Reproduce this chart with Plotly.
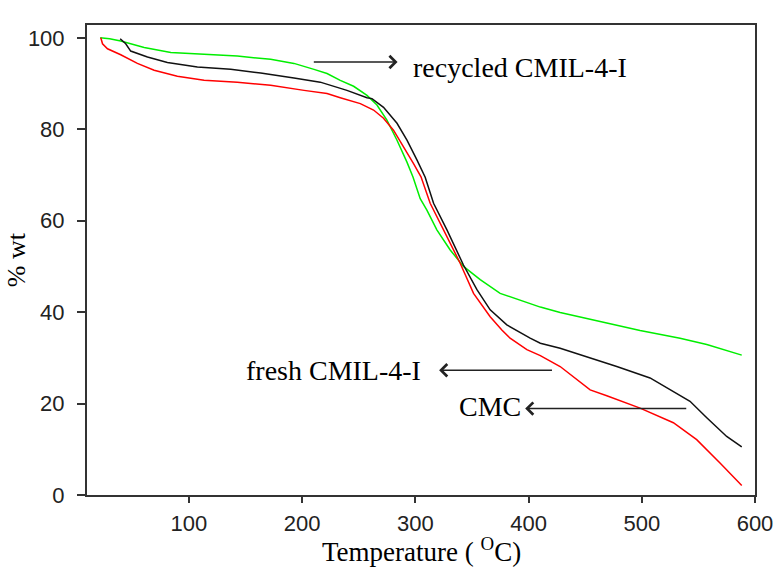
import plotly.graph_objects as go

# ---- data ----
recycled_x = [21.6, 30, 39.8, 60.5, 84, 113.4, 142.8, 172.2, 192.8, 210.5, 222, 233.7, 245.5, 257.3, 266.1,
              274.9, 283.8, 292.6, 298, 304.3, 310.2, 319, 330.8, 342.5, 357.3, 374.9, 398.5, 410.4, 427.9,
              439.6, 469.1, 498.5, 522, 533.8, 557.4, 588.3]
recycled_y = [100.0, 99.8, 99.3, 97.9, 96.8, 96.4, 96.0, 95.3, 94.4, 93.1, 92.2, 90.7, 89.4, 87.4, 85.3,
              82.0, 77.6, 72.8, 69.5, 64.8, 62.3, 58.0, 53.6, 50.0, 47.1, 44.1, 42.0, 41.1, 39.9,
              39.2, 37.6, 36.0, 34.8, 34.3, 32.9, 30.6]

fresh_x = [39.3, 44.2, 48.6, 63.4, 81, 107.5, 136.9, 163.4, 192.8, 216, 239.6, 257.3, 261.7, 271.9, 283.8,
           292.6, 301.4, 308.7, 316.1, 327.9, 342.5, 354.4, 366.1, 380.8, 401.4, 410.4, 427.9, 448.4,
           477.9, 507.3, 527.9, 542.6, 557.4, 575, 588.3]
fresh_y = [99.8, 98.7, 97.1, 95.8, 94.6, 93.6, 93.1, 92.3, 91.2, 90.3, 88.5, 86.9, 86.7, 84.8, 81.3,
           77.6, 73.3, 69.5, 63.8, 58.0, 50.3, 44.9, 40.5, 37.2, 34.3, 33.2, 32.1, 30.5,
           28.1, 25.6, 22.7, 20.5, 16.9, 12.8, 10.5]

cmc_x = [22.2, 23.7, 28.1, 39.8, 54.5, 69.3, 89.8, 113.4, 142.8, 172.2, 201.7, 222, 233.7, 251.4, 263.1,
         271.9, 280.7, 289.6, 298.4, 305, 313.1, 324.9, 339.6, 351.4, 366.1, 376.4, 383.7, 398.5,
         410.4, 427.9, 454.4, 469.1, 498.5, 527.9, 548.5, 569.1, 588.3]
cmc_y = [100, 98.7, 97.6, 96.3, 94.4, 92.9, 91.6, 90.7, 90.3, 89.6, 88.5, 87.8, 86.9, 85.6, 84.2,
         82.4, 79.8, 76.2, 72.5, 69.6, 63.8, 58.0, 50.7, 44.1, 39.0, 36.1, 34.3, 31.8,
         30.5, 28.1, 23.0, 21.7, 19.0, 15.8, 12.1, 7.0, 2.1]

x_ticks = [100, 200, 300, 400, 500, 600]
y_ticks = [0, 20, 40, 60, 80, 100]

x_title = "Temperature ( <sup>O</sup>C)"
y_title = "% wt"

# labels: (text, text_x, text_y, arrow_tail_x, arrow_head_x, arrow_y)
labels = [
    ("recycled CMIL-4-I", 296.0, 93.6, 209.0, 284.3, 94.7),
    ("fresh CMIL-4-I", 149.0, 27.3, 422.0, 321.0, 27.3),
    ("CMC", 337.0, 19.4, 540.6, 397.0, 18.9),
]

fig = go.Figure()
fig.add_trace(go.Scatter(x=recycled_x, y=recycled_y, mode="lines",
                         line=dict(color="#00ee00", width=1.5), name="recycled CMIL-4-I"))
fig.add_trace(go.Scatter(x=fresh_x, y=fresh_y, mode="lines",
                         line=dict(color="#111111", width=1.5), name="fresh CMIL-4-I"))
fig.add_trace(go.Scatter(x=cmc_x, y=cmc_y, mode="lines",
                         line=dict(color="#ff0000", width=1.5), name="CMC"))

serif = "Liberation Serif, Times New Roman, serif"
for text, tx, ty, tail, head, ay in labels:
    fig.add_annotation(x=tx, y=ty, xref="x", yref="y", text=text, showarrow=False,
                       xanchor="left", yanchor="middle",
                       font=dict(family=serif, size=28, color="black"))
    fig.add_annotation(x=head, y=ay, ax=tail, ay=ay, xref="x", yref="y", axref="x", ayref="y",
                       text="", showarrow=True, arrowhead=4, arrowsize=1.6, arrowwidth=1.5,
                       arrowcolor="#222222", standoff=0, startstandoff=0)

# axis titles
fig.add_annotation(x=0.5, y=-0.118, xref="paper", yref="paper", text=x_title, showarrow=False,
                   xanchor="center", yanchor="middle",
                   font=dict(family=serif, size=27, color="black"))
fig.add_annotation(x=-0.106, y=0.5, xref="paper", yref="paper", text=y_title, showarrow=False,
                   xanchor="center", yanchor="middle", textangle=-90,
                   font=dict(family=serif, size=26, color="black"))

axis_common = dict(showline=True, linecolor="#333333", linewidth=2, mirror=True,
                   ticks="outside", tickwidth=1.5, tickcolor="#333333",
                   showgrid=False, zeroline=False, automargin=False,
                   tickfont=dict(family="Liberation Sans, Arial, sans-serif", size=22, color="#222222"))

fig.update_xaxes(range=[10, 600], tickvals=x_ticks, ticktext=[str(v) for v in x_ticks],
                 ticklen=6, ticklabelstandoff=2, **axis_common)
fig.update_yaxes(range=[0, 102.8], tickvals=y_ticks, ticktext=[str(v) for v in y_ticks],
                 ticklen=8, ticklabelstandoff=8, **axis_common)

fig.update_layout(template="none", width=778, height=570, margin=dict(l=87, r=23, t=25, b=75),
                  plot_bgcolor="white", paper_bgcolor="white", showlegend=False)

fig.write_html("out.html", config={"displayModeBar": False},
               post_script="document.body.style.margin='0';document.body.style.padding='0';"
                           "document.documentElement.style.overflow='hidden';")
